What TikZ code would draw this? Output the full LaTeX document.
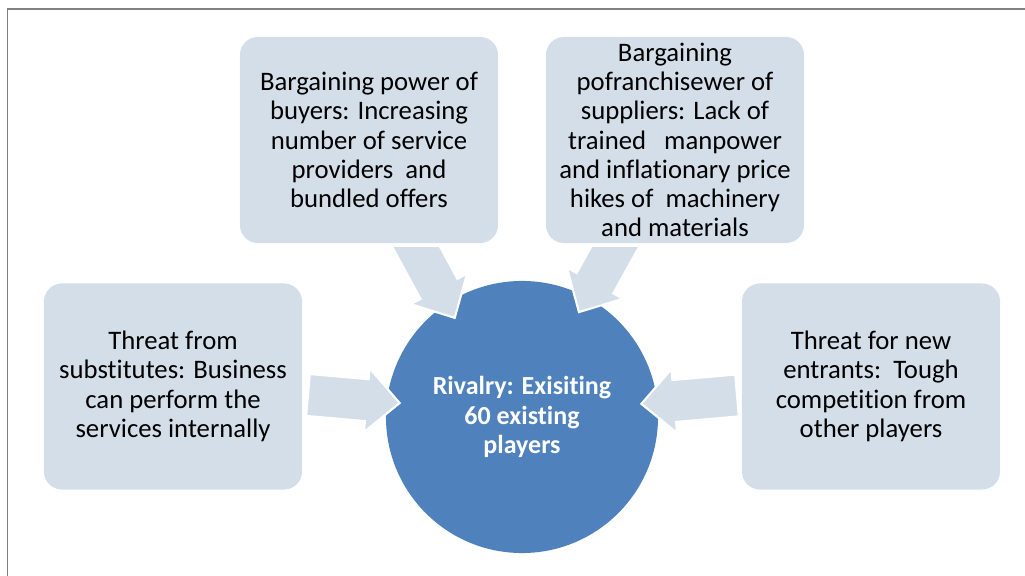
\documentclass[tikz,border=0pt]{standalone}
\usepackage{fontspec}
\setmainfont{Carlito}[Ligatures=NoCommon]
\definecolor{boxblue}{RGB}{211,222,233}
\definecolor{rivalblue}{RGB}{79,129,189}
\definecolor{framegray}{RGB}{128,128,128}

% block arrow: start coordinate, angle, length
\newcommand{\pusharrow}[3]{%
  \begin{scope}[shift={(#1)}, rotate=#2]
    \filldraw[push] (0,-21) -- (#3-33,-21) -- (#3-33,-32) -- (#3,0) -- (#3-33,32) -- (#3-33,21) -- (0,21) -- cycle;
  \end{scope}}

\begin{document}
\begin{tikzpicture}[x=0.025cm, y=-0.025cm,
    force/.style={rectangle, rounded corners=0.45cm, fill=boxblue, minimum width=6.45cm, minimum height=5.15cm, align=center, font=\fontsize{19}{20.8}\selectfont},
    push/.style={fill=boxblue, draw=white, line width=1.5pt, line join=miter}]
    \useasboundingbox (0,0) rectangle (1025,576);
    % Frame
    \draw[framegray, line width=1.2pt] (1025,9) -| (7.5,576);

    % Forces
    \node[force] (buyers) at (369,140) {Bargaining power of\\buyers: Increasing\\number of service\\providers\ \ and\\bundled offers};
    \node[force] (suppliers) at (675,140) {Bargaining\\pofranchisewer of\\suppliers: Lack of\\trained\ \ \ manpower\\and inflationary price\\hikes of\ \ machinery\\and materials};
    \node[force] (substitutes) at (173,386.5) {Threat from\\substitutes: Business\\can perform the\\services internally};
    \node[force] (entrants) at (871,386.5) {Threat for new\\entrants:\ \ Tough\\competition from\\other players};

    % Rivalry
    \node[circle, fill=rivalblue, minimum size=6.8cm, text=white, align=center, font=\bfseries\fontsize{18.5}{20.8}\selectfont] (rivalry) at (522,417) {Rivalry: Exisiting\\60 existing\\players};

    % Arrows
    \coordinate (fromBuyers) at (407,230);
    \coordinate (fromSuppliers) at (625,229);
    \coordinate (fromSubstitutes) at (308,395);
    \coordinate (fromEntrants) at (737,395.5);
    \begin{scope}
      \clip (0,248) rectangle (1025,576);
      \pusharrow{fromBuyers}{-61.5}{100}
      \pusharrow{fromSuppliers}{241}{95}
    \end{scope}
    \pusharrow{fromSubstitutes}{-5}{92}
    \pusharrow{fromEntrants}{185}{96}
\end{tikzpicture}
\end{document}
